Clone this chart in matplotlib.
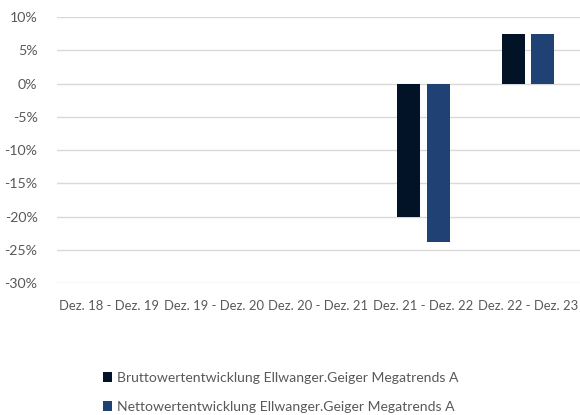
import numpy as np
import matplotlib.pyplot as plt
from matplotlib.ticker import FuncFormatter

# --- Daten ---
categories = ["Dez. 18 - Dez. 19", "Dez. 19 - Dez. 20", "Dez. 20 - Dez. 21",
              "Dez. 21 - Dez. 22", "Dez. 22 - Dez. 23"]
brutto = [np.nan, np.nan, np.nan, -20.0, 7.5]
netto = [np.nan, np.nan, np.nan, -23.9, 7.5]
series_names = ["Bruttowertentwicklung Ellwanger.Geiger Megatrends A",
                "Nettowertentwicklung Ellwanger.Geiger Megatrends A"]
yticks = [10, 5, 0, -5, -10, -15, -20, -25, -30]

plt.rcParams['font.family'] = ['Lato', 'DejaVu Sans']
text_color = '#595959'

fig = plt.figure(figsize=(5.8, 4.15), dpi=100)
ax = fig.add_axes([57 / 580, 1 - 283 / 415, 1 - 57 / 580, 266 / 415])

x = np.arange(len(categories))
w = 0.22
ax.bar(x - 0.14, brutto, w, color='#021328', label=series_names[0], zorder=3)
ax.bar(x + 0.145, netto, w, color='#1f4173', label=series_names[1], zorder=3)

ax.set_ylim(-30, 10)
ax.set_xlim(-0.5, len(categories) - 0.5)
ax.set_yticks(yticks)
ax.yaxis.set_major_formatter(FuncFormatter(lambda v, _: f"{v:.0f}%"))
ax.set_xticks(x)
ax.set_xticklabels(categories)
ax.grid(axis='y', color='#d9d9d9', linewidth=1, zorder=0)
for s in ax.spines.values():
    s.set_visible(False)
ax.tick_params(length=0, colors=text_color, labelsize=10.2)
ax.tick_params(axis='y', pad=14)
ax.tick_params(axis='x', pad=12, labelsize=9.4)

handles, labels = ax.get_legend_handles_labels()
fig.legend(handles, labels, loc='upper left', bbox_to_anchor=(90 / 580, 1 - 359 / 415),
           ncol=1, frameon=False, fontsize=10.1, labelcolor=text_color,
           handlelength=0.7, handleheight=0.7, handletextpad=0.3,
           labelspacing=1.25)

fig.savefig("out.png", dpi=100)
